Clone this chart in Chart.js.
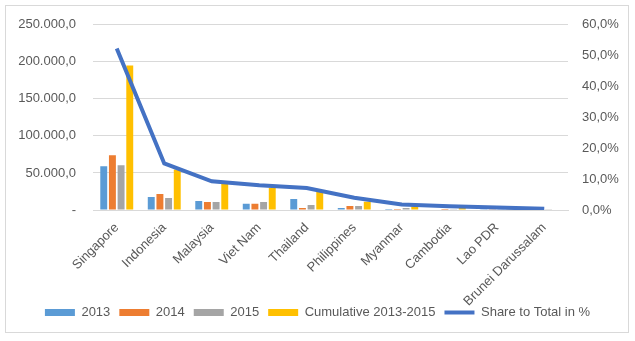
<!DOCTYPE html>
<html>
<head>
<meta charset="utf-8">
<script src="https://cdn.jsdelivr.net/npm/chart.js@4"></script>
<style>
  html, body { margin: 0; padding: 0; background: #ffffff; }
  #wrap { position: relative; width: 635px; height: 341px; }
</style>
</head>
<body>
<div id="wrap"><canvas id="chart" width="635" height="341"></canvas></div>
<script>
// Categories and values
const countries = ['Singapore', 'Indonesia', 'Malaysia', 'Viet Nam', 'Thailand', 'Philippines', 'Myanmar', 'Cambodia', 'Lao PDR', 'Brunei Darussalam'];
const values2013 = [59100, 17500, 12100, 8500, 14800, 2700, 1200, 800, 300, 100];
const values2014 = [73900, 21500, 10700, 8500, 2700, 5400, 1200, 1300, 300, 100];
const values2015 = [60500, 16100, 10700, 10700, 6700, 5400, 2700, 1000, 400, 500];
const cumulative = [194900, 54700, 35300, 30000, 24200, 11200, 4900, 3000, 1000, 800];
const sharePct = [52.3, 15.1, 9.3, 8.0, 7.1, 4.0, 1.8, 1.2, 0.8, 0.4];

const textColor = '#595959';
const gridColor = '#D9D9D9';
const fontFamily = '"Liberation Sans", Arial, sans-serif';

// number like 250.000,0
function formatThousands(v) {
    if (v === 0) return '-';
    const parts = v.toFixed(1).split('.');
    const intPart = parts[0].replace(/\B(?=(\d{3})+(?!\d))/g, '.');
    return intPart + ',' + parts[1];
}

// outer frame like the Excel chart area
const framePlugin = {
    id: 'frame',
    beforeDraw(chart) {
        const ctx = chart.ctx;
        ctx.save();
        ctx.strokeStyle = gridColor;
        ctx.lineWidth = 1;
        ctx.strokeRect(5.5, 5.5, 623, 327);
        ctx.restore();
    }
};

// the long rotated labels need a tall x axis; pull the legend back up under them
const legendLift = {
    id: 'legendLift',
    afterLayout(chart) {
        if (chart.legend) {
            chart.legend.top -= 9;
            chart.legend.bottom -= 9;
        }
    }
};

new Chart(document.getElementById('chart'), {
    data: {
        labels: countries,
        datasets: [
            { type: 'bar', label: '2013', data: values2013, backgroundColor: '#5B9BD5', yAxisID: 'y', order: 1, categoryPercentage: 0.73, barPercentage: 0.8 },
            { type: 'bar', label: '2014', data: values2014, backgroundColor: '#ED7D31', yAxisID: 'y', order: 1, categoryPercentage: 0.73, barPercentage: 0.8 },
            { type: 'bar', label: '2015', data: values2015, backgroundColor: '#A5A5A5', yAxisID: 'y', order: 1, categoryPercentage: 0.73, barPercentage: 0.8 },
            { type: 'bar', label: 'Cumulative 2013-2015', data: cumulative, backgroundColor: '#FFC000', yAxisID: 'y', order: 1, categoryPercentage: 0.73, barPercentage: 0.8 },
            { type: 'line', label: 'Share to Total in %', data: sharePct, borderColor: '#4472C4', backgroundColor: '#4472C4', borderWidth: 4, pointRadius: 0, tension: 0, yAxisID: 'y1', order: 0 }
        ]
    },
    options: {
        responsive: false,
        animation: false,
        layout: { padding: { left: 0, right: 0, top: 23, bottom: 3 } },
        plugins: {
            tooltip: { enabled: false },
            legend: {
                position: 'bottom',
                labels: {
                    color: textColor,
                    font: { family: fontFamily, size: 13 },
                    usePointStyle: true,
                    pointStyleWidth: 30,
                    boxHeight: 7,
                    padding: 9,
                    sort: (a, b) => a.datasetIndex - b.datasetIndex,
                    generateLabels(chart) {
                        const items = Chart.defaults.plugins.legend.labels.generateLabels(chart);
                        items.forEach(item => {
                            const ds = chart.data.datasets[item.datasetIndex];
                            item.pointStyle = ds.type === 'line' ? 'line' : 'rect';
                            item.lineWidth = ds.type === 'line' ? 4 : 0;
                        });
                        return items;
                    }
                }
            }
        },
        scales: {
            x: {
                grid: { display: false },
                border: { display: true, color: gridColor },
                ticks: {
                    color: textColor,
                    font: { family: fontFamily, size: 13 },
                    minRotation: 45,
                    maxRotation: 45,
                    autoSkip: false,
                    padding: 2
                },
                afterFit(scale) { scale.height = 96; }
            },
            y: {
                position: 'left',
                min: 0,
                max: 250000,
                ticks: {
                    stepSize: 50000,
                    color: textColor,
                    font: { family: fontFamily, size: 13 },
                    padding: 17,
                    callback: v => formatThousands(v)
                },
                grid: { color: gridColor, drawTicks: false },
                border: { display: false },
                afterFit(scale) { scale.width = 93; }
            },
            y1: {
                position: 'right',
                min: 0,
                max: 60,
                ticks: {
                    stepSize: 10,
                    color: textColor,
                    font: { family: fontFamily, size: 13 },
                    padding: 14,
                    callback: v => v.toFixed(1).replace('.', ',') + '%'
                },
                grid: { display: false, drawTicks: false },
                border: { display: false },
                afterFit(scale) { scale.width = 67; }
            }
        }
    },
    plugins: [framePlugin, legendLift]
});
</script>
</body>
</html>
